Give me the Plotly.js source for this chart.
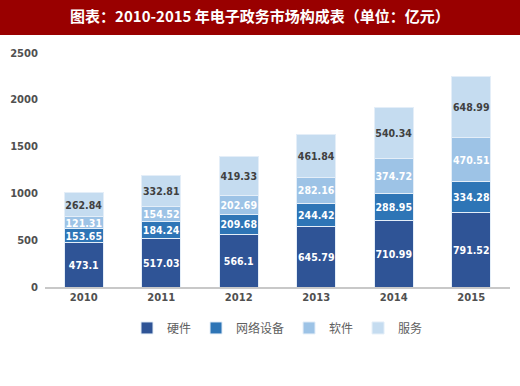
<!DOCTYPE html>
<html><head><meta charset="utf-8">
<script src="https://cdn.plot.ly/plotly-3.0.1.min.js"></script>
<style>html,body{margin:0;padding:0;background:#fff}#c{width:520px;height:386px}</style>
</head><body><div id="c"></div>
<script>
var years = ['2010','2011','2012','2013','2014','2015'];
var hardware = [473.1, 517.03, 566.1, 645.79, 710.99, 791.52];
var network = [153.65, 184.24, 209.68, 244.42, 288.95, 334.28];
var software = [121.31, 154.52, 202.69, 282.16, 374.72, 470.51];
var service = [262.84, 332.81, 419.33, 461.84, 540.34, 648.99];
var names = ['硬件','网络设备','软件','服务'];
var colors = ['#2f5496','#2e75b6','#9dc3e6','#c5dcf0'];
var textColors = ['#ffffff','#ffffff','#ffffff','#404040'];
var series = [hardware, network, software, service];
var traces = series.map(function(s,i){
  return {type:'bar', x:years, y:s, name:names[i],
    text:s.map(String), textposition:'inside', insidetextanchor:'middle',
    textangle:0, constraintext:'none', cliponaxis:false,
    textfont:{size:10.5, color:textColors[i], family:'DejaVu Sans Condensed, Liberation Sans, sans-serif', weight:'bold'},
    marker:{color:colors[i], line:{color:'#e4eef8', width:1}},
    hoverinfo:'none'};
});
var layout = {
  width:520, height:386, barmode:'stack', bargap:0.5,
  paper_bgcolor:'#ffffff', plot_bgcolor:'#ffffff',
  margin:{l:45, r:10, t:53, b:99},
  title:{text:'<b>图表：2010-2015 年电子政务市场构成表（单位：亿元）</b>',
    x:0.5, xanchor:'center', y:0.956, yanchor:'middle', yref:'container',
    font:{size:15, color:'#ffffff', family:'Noto Sans CJK SC, sans-serif'}},
  shapes:[{type:'rect', xref:'paper', yref:'paper', x0:-0.1, x1:1.03,
    y0:(386-99-35)/234, y1:(386-99)/234, fillcolor:'#990000', line:{width:0}, layer:'below'}],
  xaxis:{type:'category', showline:true, linecolor:'#c8c8c8', linewidth:2, ticks:'',
    showgrid:false, zeroline:false,
    tickfont:{size:10, color:'#505050', family:'DejaVu Sans, sans-serif', weight:'bold'}},
  yaxis:{range:[0,2500], dtick:500, showgrid:false, zeroline:false, showline:false, ticks:'',
    ticklabelstandoff:6,
    tickfont:{size:10, color:'#505050', family:'DejaVu Sans, sans-serif', weight:'bold'}},
  legend:{orientation:'h', x:0.5, xanchor:'center', y:-0.175, yanchor:'middle',
    font:{size:12, color:'#606060', family:'Noto Sans CJK SC, sans-serif'},
    itemwidth:30, traceorder:'normal'},
  showlegend:true
};
Plotly.newPlot('c', traces, layout, {staticPlot:true});
</script></body></html>
